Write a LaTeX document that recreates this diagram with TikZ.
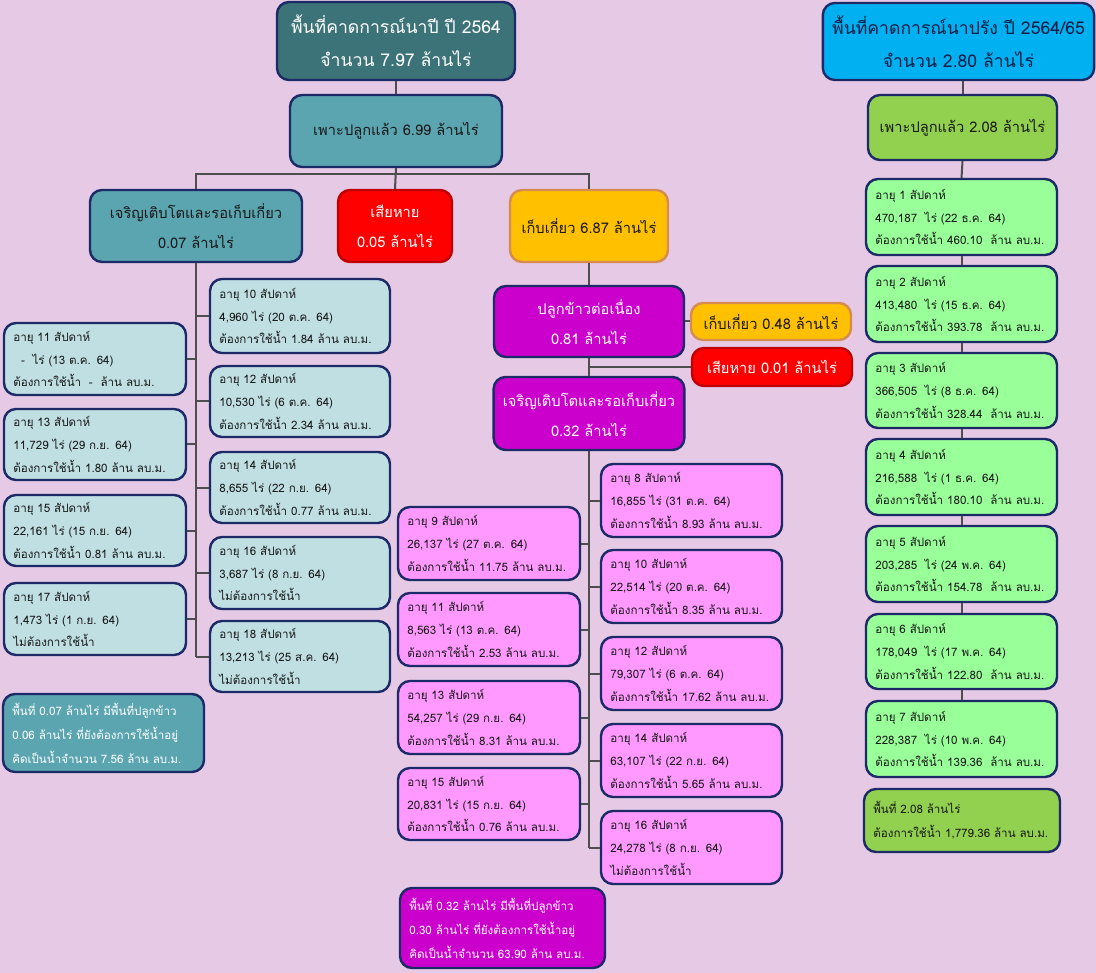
\documentclass[tikz,border=0pt]{standalone}
\usepackage{fontspec}
\setmainfont[Script=Thai]{Loma}
\definecolor{bg}{RGB}{229,201,229}
\definecolor{navy}{RGB}{28,42,104}
\definecolor{lineC}{RGB}{77,77,77}
\definecolor{tdark}{RGB}{59,115,120}
\definecolor{teal}{RGB}{91,165,176}
\definecolor{lblue}{RGB}{192,223,226}
\definecolor{redF}{RGB}{255,0,0}
\definecolor{redB}{RGB}{190,0,0}
\definecolor{yel}{RGB}{255,192,0}
\definecolor{yelB}{RGB}{214,140,80}
\definecolor{mag}{RGB}{204,0,204}
\definecolor{pnk}{RGB}{255,153,255}
\definecolor{cyn}{RGB}{0,176,240}
\definecolor{grn}{RGB}{146,208,80}
\definecolor{lgrn}{RGB}{153,255,153}
\definecolor{txt}{RGB}{25,25,25}
\definecolor{ntxt}{RGB}{16,30,70}
% centred box: no wrapping
\newcommand\bx[7]{%
  \pgfmathsetmacro\bxw{(#5-#3)*0.75}%
  \pgfmathsetmacro\bxh{(#6-#4)*0.75}%
  \node[#1, minimum width=\bxw pt, minimum height=\bxh pt] (#2) at ({(#3+#5)/2},{(#4+#6)/2}) {#7};}
% left-aligned box
\newcommand\bxl[7]{%
  \pgfmathsetmacro\bxw{(#5-#3)*0.75}%
  \pgfmathsetmacro\bxh{(#6-#4)*0.75}%
  \pgfmathsetmacro\bxt{(#5-#3)*0.75-14}%
  \node[#1, minimum width=\bxw pt, minimum height=\bxh pt, text width=\bxt pt] (#2) at ({(#3+#5)/2},{(#4+#6)/2}) {#7};}
\tikzset{
  box/.style={draw=navy, line width=1.8pt, rounded corners=9pt, inner xsep=7pt, inner ysep=0pt, text=txt},
  sm/.style={box, font=\fontsize{8.7}{17.2}\selectfont, align=left},
  lb/.style={sm, fill=lblue},
  pk/.style={sm, fill=pnk},
  gr/.style={sm, fill=lgrn},
  md/.style={box, font=\fontsize{11}{22.5}\selectfont, align=center},
  big/.style={box, font=\fontsize{13.2}{25}\selectfont, align=center},
  note/.style={box, font=\fontsize{8.7}{18}\selectfont, align=left},
  conn/.style={draw=lineC, line width=1.5pt}
}
\begin{document}
\begin{tikzpicture}[x=0.75pt,y=-0.75pt]
\useasboundingbox (0,0) rectangle (1096,973);
\fill[bg] (0,0) rectangle (1096,973);
% ---- left tree (นาปี)
\bx{big, fill=tdark, text=white}{t1}{277}{2}{515}{80}{พื้นที่คาดการณ์นาปี ปี 2564\\จำนวน 7.97 ล้านไร่}
\bx{md, fill=teal}{p1}{290}{95}{502}{167}{เพาะปลูกแล้ว 6.99 ล้านไร่}
\bx{md, fill=teal}{g0}{90}{190}{302}{262}{เจริญเติบโตและรอเก็บเกี่ยว\\0.07 ล้านไร่}
\bx{md, fill=redF, draw=redB, text=white}{l1}{338}{190}{452}{262}{เสียหาย\\0.05 ล้านไร่}
\bx{md, fill=yel, draw=yelB}{h1}{510}{190}{668}{262}{เก็บเกี่ยว 6.87 ล้านไร่}
\bxl{lb}{a10}{210}{279}{390}{353}{อายุ 10 สัปดาห์\\4,960 ไร่ (20 ต.ค. 64)\\ต้องการใช้น้ำ 1.84 ล้าน ลบ.ม.}
\bxl{lb}{a11}{4}{323}{186}{395}{อายุ 11 สัปดาห์\\\ \ - \ ไร่ (13 ต.ค. 64)\\ต้องการใช้น้ำ \ - \ ล้าน ลบ.ม.}
\bxl{lb}{a12}{210}{366}{390}{437}{อายุ 12 สัปดาห์\\10,530 ไร่ (6 ต.ค. 64)\\ต้องการใช้น้ำ 2.34 ล้าน ลบ.ม.}
\bxl{lb}{a13}{4}{409}{186}{480}{อายุ 13 สัปดาห์\\11,729 ไร่ (29 ก.ย. 64)\\ต้องการใช้น้ำ 1.80 ล้าน ลบ.ม.}
\bxl{lb}{a14}{210}{452}{390}{523}{อายุ 14 สัปดาห์\\8,655 ไร่ (22 ก.ย. 64)\\ต้องการใช้น้ำ 0.77 ล้าน ลบ.ม.}
\bxl{lb}{a15}{4}{495}{186}{566}{อายุ 15 สัปดาห์\\22,161 ไร่ (15 ก.ย. 64)\\ต้องการใช้น้ำ 0.81 ล้าน ลบ.ม.}
\bxl{lb}{a16}{210}{537}{390}{609}{อายุ 16 สัปดาห์\\3,687 ไร่ (8 ก.ย. 64)\\ไม่ต้องการใช้น้ำ}
\bxl{lb}{a17}{4}{583}{186}{655}{อายุ 17 สัปดาห์\\1,473 ไร่ (1 ก.ย. 64)\\ไม่ต้องการใช้น้ำ}
\bxl{lb}{a18}{210}{621}{390}{692}{อายุ 18 สัปดาห์\\13,213 ไร่ (25 ส.ค. 64)\\ไม่ต้องการใช้น้ำ}
\bxl{note, fill=teal, text=white}{n1}{3}{694}{204}{772}{พื้นที่ 0.07 ล้านไร่ มีพื้นที่ปลูกข้าว\\0.06 ล้านไร่ ที่ยังต้องการใช้น้ำอยู่\\คิดเป็นน้ำจำนวน 7.56 ล้าน ลบ.ม.}
% ---- middle
\bx{md, fill=mag, text=white}{c1}{494}{286}{684}{357}{ปลูกข้าวต่อเนื่อง\\0.81 ล้านไร่}
\bx{md, fill=yel, draw=yelB}{y1}{691}{303}{851}{340}{เก็บเกี่ยว 0.48 ล้านไร่}
\bx{md, fill=redF, draw=redB, text=white}{r1}{692}{348}{852}{386}{เสียหาย 0.01 ล้านไร่}
\bx{md, fill=mag, text=white}{m1}{494}{377}{684}{450}{เจริญเติบโตและรอเก็บเกี่ยว\\0.32 ล้านไร่}
\bxl{pk}{b8}{601}{464}{782}{537}{อายุ 8 สัปดาห์\\16,855 ไร่ (31 ต.ค. 64)\\ต้องการใช้น้ำ 8.93 ล้าน ลบ.ม.}
\bxl{pk}{b9}{398}{507}{580}{580}{อายุ 9 สัปดาห์\\26,137 ไร่ (27 ต.ค. 64)\\ต้องการใช้น้ำ 11.75 ล้าน ลบ.ม.}
\bxl{pk}{b10}{601}{550}{782}{623}{อายุ 10 สัปดาห์\\22,514 ไร่ (20 ต.ค. 64)\\ต้องการใช้น้ำ 8.35 ล้าน ลบ.ม.}
\bxl{pk}{b11}{398}{593}{580}{666}{อายุ 11 สัปดาห์\\8,563 ไร่ (13 ต.ค. 64)\\ต้องการใช้น้ำ 2.53 ล้าน ลบ.ม.}
\bxl{pk}{b12}{601}{637}{782}{710}{อายุ 12 สัปดาห์\\79,307 ไร่ (6 ต.ค. 64)\\ต้องการใช้น้ำ 17.62 ล้าน ลบ.ม.}
\bxl{pk}{b13}{398}{681}{580}{754}{อายุ 13 สัปดาห์\\54,257 ไร่ (29 ก.ย. 64)\\ต้องการใช้น้ำ 8.31 ล้าน ลบ.ม.}
\bxl{pk}{b14}{601}{724}{782}{797}{อายุ 14 สัปดาห์\\63,107 ไร่ (22 ก.ย. 64)\\ต้องการใช้น้ำ 5.65 ล้าน ลบ.ม.}
\bxl{pk}{b15}{398}{768}{580}{840}{อายุ 15 สัปดาห์\\20,831 ไร่ (15 ก.ย. 64)\\ต้องการใช้น้ำ 0.76 ล้าน ลบ.ม.}
\bxl{pk}{b16}{601}{811}{782}{884}{อายุ 16 สัปดาห์\\24,278 ไร่ (8 ก.ย. 64)\\ไม่ต้องการใช้น้ำ}
\bxl{note, fill=mag, text=white}{n2}{400}{888}{605}{968}{พื้นที่ 0.32 ล้านไร่ มีพื้นที่ปลูกข้าว\\0.30 ล้านไร่ ที่ยังต้องการใช้น้ำอยู่\\คิดเป็นน้ำจำนวน 63.90 ล้าน ลบ.ม.}
% ---- right tree (นาปรัง)
\bx{big, fill=cyn, text=ntxt}{t2}{823}{3}{1094}{80}{พื้นที่คาดการณ์นาปรัง ปี 2564/65\\จำนวน 2.80 ล้านไร่}
\bx{md, fill=grn}{p2}{868}{95}{1057}{160}{เพาะปลูกแล้ว 2.08 ล้านไร่}
\bxl{gr}{w1}{866}{179}{1057}{255}{อายุ 1 สัปดาห์\\470,187 \ ไร่ (22 ธ.ค. 64)\\ต้องการใช้น้ำ 460.10 \ ล้าน ลบ.ม.}
\bxl{gr}{w2}{866}{266}{1057}{342}{อายุ 2 สัปดาห์\\413,480 \ ไร่ (15 ธ.ค. 64)\\ต้องการใช้น้ำ 393.78 \ ล้าน ลบ.ม.}
\bxl{gr}{w3}{866}{353}{1057}{428}{อายุ 3 สัปดาห์\\366,505 \ ไร่ (8 ธ.ค. 64)\\ต้องการใช้น้ำ 328.44 \ ล้าน ลบ.ม.}
\bxl{gr}{w4}{866}{439}{1057}{515}{อายุ 4 สัปดาห์\\216,588 \ ไร่ (1 ธ.ค. 64)\\ต้องการใช้น้ำ 180.10 \ ล้าน ลบ.ม.}
\bxl{gr}{w5}{866}{526}{1057}{602}{อายุ 5 สัปดาห์\\203,285 \ ไร่ (24 พ.ค. 64)\\ต้องการใช้น้ำ 154.78 \ ล้าน ลบ.ม.}
\bxl{gr}{w6}{866}{614}{1057}{689}{อายุ 6 สัปดาห์\\178,049 \ ไร่ (17 พ.ค. 64)\\ต้องการใช้น้ำ 122.80 \ ล้าน ลบ.ม.}
\bxl{gr}{w7}{866}{701}{1057}{777}{อายุ 7 สัปดาห์\\228,387 \ ไร่ (10 พ.ค. 64)\\ต้องการใช้น้ำ 139.36 \ ล้าน ลบ.ม.}
\bxl{note, fill=grn}{n3}{864}{789}{1060}{852}{พื้นที่ 2.08 ล้านไร่\\ต้องการใช้น้ำ 1,779.36 ล้าน ลบ.ม.}
% ---- connectors
\draw[conn] (t1.south) -- (p1.north);
\draw[conn] (p1.south) -- (l1.north);
\draw[conn] (g0.north) -- ++(0,-15) -| (h1.north);
\draw[conn] (g0.south) -- (g0.south |- a18.west);
\foreach \n in {a10,a12,a14,a16,a18} \draw[conn] (\n.west) -- (\n.west -| g0.south);
\foreach \n in {a11,a13,a15,a17} \draw[conn] (\n.east) -- (\n.east -| g0.south);
\draw[conn] (c1.north) -- (c1.north |- h1.south);
\draw[conn] (c1.east) -- (y1.west);
\draw[conn] (c1.south) -- (m1.north);
\draw[conn] (r1.west) -- (r1.west -| c1.south);
\draw[conn] (m1.south) -- (m1.south |- b16.west);
\foreach \n in {b8,b10,b12,b14,b16} \draw[conn] (\n.west) -- (\n.west -| m1.south);
\foreach \n in {b9,b11,b13,b15} \draw[conn] (\n.east) -- (\n.east -| m1.south);
\draw[conn] (p2.north) -- (p2.north |- t2.south);
\draw[conn] (p2.south) -- (w1.north);
\draw[conn] (w1.south) -- (w2.north);
\draw[conn] (w2.south) -- (w3.north);
\draw[conn] (w3.south) -- (w4.north);
\draw[conn] (w4.south) -- (w5.north);
\draw[conn] (w5.south) -- (w6.north);
\draw[conn] (w6.south) -- (w7.north);
\end{tikzpicture}
\end{document}
